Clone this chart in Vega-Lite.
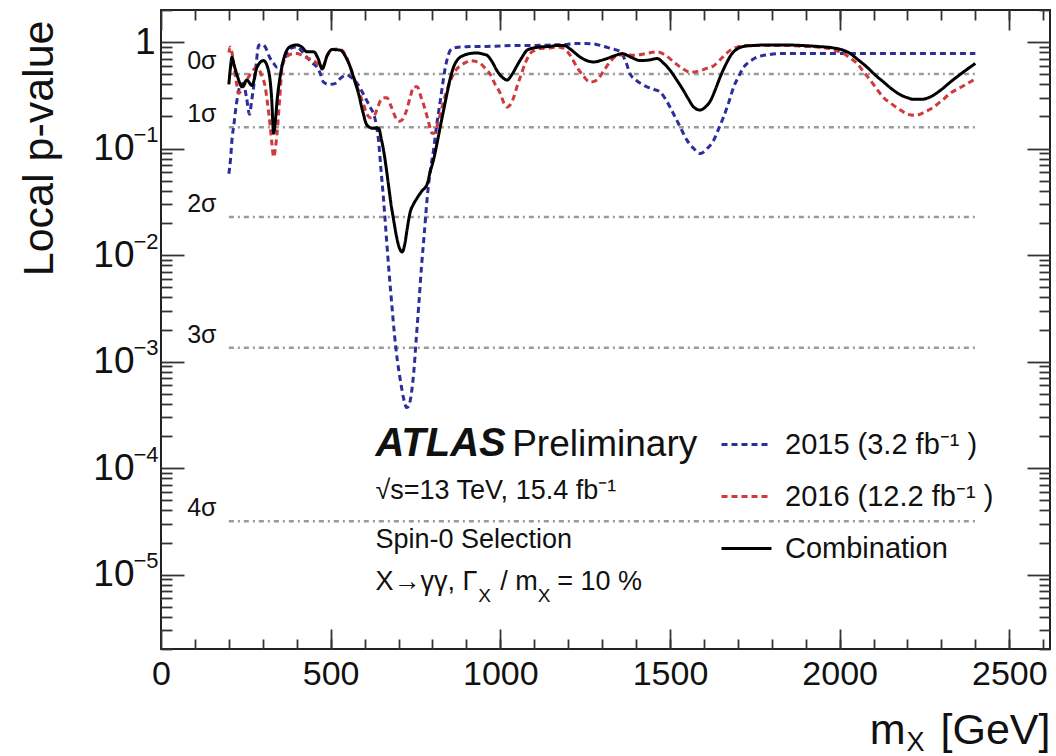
{
  "$schema": "https://vega.github.io/schema/vega-lite/v6.json",
  "width": 889,
  "height": 639,
  "autosize": {"type": "none"},
  "padding": {"left": 161, "top": 10, "right": 6, "bottom": 107},
  "background": "white",
  "config": {
    "view": {"stroke": "#222", "strokeWidth": 2},
    "font": "Liberation Sans",
    "axis": {
      "grid": false, "domain": false, "labelFlush": false,
      "labelFont": "Liberation Sans", "titleFont": "Liberation Sans",
      "labelColor": "#111", "titleColor": "#111",
      "tickColor": "#333", "tickWidth": 1.8,
      "titleFontWeight": "normal"
    },
    "text": {"font": "Liberation Sans", "color": "#111"}
  },
  "datasets": {
    "curves": [
      {"m":200,"p":0.058,"series":"2015"},{"m":205,"p":0.08,"series":"2015"},{"m":210,"p":0.13,"series":"2015"},{"m":214,"p":0.16,"series":"2015"},{"m":222,"p":0.26,"series":"2015"},{"m":229,"p":0.35,"series":"2015"},{"m":236,"p":0.40,"series":"2015"},{"m":243,"p":0.41,"series":"2015"},{"m":252,"p":0.30,"series":"2015"},{"m":261,"p":0.21,"series":"2015"},{"m":267,"p":0.28,"series":"2015"},{"m":273,"p":0.38,"series":"2015"},{"m":280,"p":0.60,"series":"2015"},{"m":288,"p":0.93,"series":"2015"},{"m":298,"p":0.95,"series":"2015"},{"m":307,"p":0.90,"series":"2015"},{"m":320,"p":0.72,"series":"2015"},{"m":332,"p":0.63,"series":"2015"},{"m":342,"p":0.58,"series":"2015"},{"m":352,"p":0.58,"series":"2015"},{"m":362,"p":0.66,"series":"2015"},{"m":371,"p":0.78,"series":"2015"},{"m":385,"p":0.88,"series":"2015"},{"m":401,"p":0.90,"series":"2015"},{"m":415,"p":0.82,"series":"2015"},{"m":430,"p":0.72,"series":"2015"},{"m":445,"p":0.64,"series":"2015"},{"m":460,"p":0.58,"series":"2015"},{"m":470,"p":0.50,"series":"2015"},{"m":479,"p":0.42,"series":"2015"},{"m":495,"p":0.40,"series":"2015"},{"m":514,"p":0.41,"series":"2015"},{"m":530,"p":0.46,"series":"2015"},{"m":548,"p":0.49,"series":"2015"},{"m":563,"p":0.46,"series":"2015"},{"m":578,"p":0.41,"series":"2015"},{"m":593,"p":0.34,"series":"2015"},{"m":607,"p":0.28,"series":"2015"},{"m":618,"p":0.24,"series":"2015"},{"m":627,"p":0.21,"series":"2015"},{"m":634,"p":0.17,"series":"2015"},{"m":641,"p":0.12,"series":"2015"},{"m":648,"p":0.065,"series":"2015"},{"m":656,"p":0.033,"series":"2015"},{"m":664,"p":0.015,"series":"2015"},{"m":672,"p":0.007,"series":"2015"},{"m":680,"p":0.0035,"series":"2015"},{"m":688,"p":0.0018,"series":"2015"},{"m":697,"p":0.0010,"series":"2015"},{"m":706,"p":0.00065,"series":"2015"},{"m":715,"p":0.00045,"series":"2015"},{"m":724,"p":0.00037,"series":"2015"},{"m":730,"p":0.00038,"series":"2015"},{"m":737,"p":0.00048,"series":"2015"},{"m":745,"p":0.0008,"series":"2015"},{"m":752,"p":0.0016,"series":"2015"},{"m":760,"p":0.0035,"series":"2015"},{"m":768,"p":0.008,"series":"2015"},{"m":776,"p":0.016,"series":"2015"},{"m":784,"p":0.033,"series":"2015"},{"m":793,"p":0.06,"series":"2015"},{"m":803,"p":0.096,"series":"2015"},{"m":813,"p":0.17,"series":"2015"},{"m":823,"p":0.28,"series":"2015"},{"m":830,"p":0.40,"series":"2015"},{"m":838,"p":0.58,"series":"2015"},{"m":845,"p":0.72,"series":"2015"},{"m":853,"p":0.84,"series":"2015"},{"m":870,"p":0.89,"series":"2015"},{"m":892,"p":0.90,"series":"2015"},{"m":920,"p":0.91,"series":"2015"},{"m":960,"p":0.91,"series":"2015"},{"m":1000,"p":0.92,"series":"2015"},{"m":1050,"p":0.93,"series":"2015"},{"m":1100,"p":0.93,"series":"2015"},{"m":1150,"p":0.94,"series":"2015"},{"m":1196,"p":0.95,"series":"2015"},{"m":1216,"p":0.97,"series":"2015"},{"m":1250,"p":0.97,"series":"2015"},{"m":1275,"p":0.96,"series":"2015"},{"m":1295,"p":0.93,"series":"2015"},{"m":1325,"p":0.87,"series":"2015"},{"m":1354,"p":0.81,"series":"2015"},{"m":1370,"p":0.65,"series":"2015"},{"m":1383,"p":0.50,"series":"2015"},{"m":1400,"p":0.44,"series":"2015"},{"m":1432,"p":0.38,"series":"2015"},{"m":1452,"p":0.36,"series":"2015"},{"m":1471,"p":0.34,"series":"2015"},{"m":1490,"p":0.28,"series":"2015"},{"m":1511,"p":0.21,"series":"2015"},{"m":1530,"p":0.16,"series":"2015"},{"m":1550,"p":0.12,"series":"2015"},{"m":1570,"p":0.10,"series":"2015"},{"m":1589,"p":0.090,"series":"2015"},{"m":1610,"p":0.10,"series":"2015"},{"m":1629,"p":0.12,"series":"2015"},{"m":1644,"p":0.155,"series":"2015"},{"m":1658,"p":0.198,"series":"2015"},{"m":1673,"p":0.27,"series":"2015"},{"m":1688,"p":0.38,"series":"2015"},{"m":1703,"p":0.48,"series":"2015"},{"m":1717,"p":0.58,"series":"2015"},{"m":1736,"p":0.66,"series":"2015"},{"m":1756,"p":0.72,"series":"2015"},{"m":1790,"p":0.76,"series":"2015"},{"m":1835,"p":0.78,"series":"2015"},{"m":1900,"p":0.78,"series":"2015"},{"m":2000,"p":0.78,"series":"2015"},{"m":2100,"p":0.78,"series":"2015"},{"m":2200,"p":0.78,"series":"2015"},{"m":2300,"p":0.78,"series":"2015"},{"m":2400,"p":0.78,"series":"2015"},

      {"m":200,"p":0.80,"series":"2016"},{"m":204,"p":0.90,"series":"2016"},{"m":209,"p":0.80,"series":"2016"},{"m":214,"p":0.63,"series":"2016"},{"m":222,"p":0.42,"series":"2016"},{"m":229,"p":0.33,"series":"2016"},{"m":238,"p":0.36,"series":"2016"},{"m":248,"p":0.41,"series":"2016"},{"m":263,"p":0.50,"series":"2016"},{"m":283,"p":0.58,"series":"2016"},{"m":295,"p":0.50,"series":"2016"},{"m":307,"p":0.38,"series":"2016"},{"m":315,"p":0.25,"series":"2016"},{"m":322,"p":0.16,"series":"2016"},{"m":327,"p":0.11,"series":"2016"},{"m":332,"p":0.083,"series":"2016"},{"m":337,"p":0.10,"series":"2016"},{"m":342,"p":0.139,"series":"2016"},{"m":350,"p":0.30,"series":"2016"},{"m":357,"p":0.58,"series":"2016"},{"m":366,"p":0.70,"series":"2016"},{"m":376,"p":0.75,"series":"2016"},{"m":390,"p":0.78,"series":"2016"},{"m":401,"p":0.78,"series":"2016"},{"m":415,"p":0.75,"series":"2016"},{"m":426,"p":0.72,"series":"2016"},{"m":440,"p":0.69,"series":"2016"},{"m":450,"p":0.67,"series":"2016"},{"m":463,"p":0.62,"series":"2016"},{"m":475,"p":0.58,"series":"2016"},{"m":490,"p":0.75,"series":"2016"},{"m":504,"p":0.85,"series":"2016"},{"m":520,"p":0.86,"series":"2016"},{"m":533,"p":0.84,"series":"2016"},{"m":545,"p":0.74,"series":"2016"},{"m":558,"p":0.58,"series":"2016"},{"m":570,"p":0.45,"series":"2016"},{"m":582,"p":0.35,"series":"2016"},{"m":595,"p":0.27,"series":"2016"},{"m":607,"p":0.21,"series":"2016"},{"m":617,"p":0.195,"series":"2016"},{"m":627,"p":0.20,"series":"2016"},{"m":636,"p":0.23,"series":"2016"},{"m":646,"p":0.28,"series":"2016"},{"m":656,"p":0.30,"series":"2016"},{"m":666,"p":0.30,"series":"2016"},{"m":678,"p":0.25,"series":"2016"},{"m":690,"p":0.20,"series":"2016"},{"m":700,"p":0.18,"series":"2016"},{"m":710,"p":0.185,"series":"2016"},{"m":722,"p":0.22,"series":"2016"},{"m":734,"p":0.30,"series":"2016"},{"m":745,"p":0.38,"series":"2016"},{"m":755,"p":0.38,"series":"2016"},{"m":767,"p":0.30,"series":"2016"},{"m":779,"p":0.23,"series":"2016"},{"m":790,"p":0.17,"series":"2016"},{"m":799,"p":0.139,"series":"2016"},{"m":806,"p":0.14,"series":"2016"},{"m":813,"p":0.16,"series":"2016"},{"m":823,"p":0.21,"series":"2016"},{"m":833,"p":0.28,"series":"2016"},{"m":845,"p":0.37,"series":"2016"},{"m":858,"p":0.47,"series":"2016"},{"m":870,"p":0.55,"series":"2016"},{"m":882,"p":0.60,"series":"2016"},{"m":897,"p":0.64,"series":"2016"},{"m":911,"p":0.67,"series":"2016"},{"m":926,"p":0.66,"series":"2016"},{"m":941,"p":0.63,"series":"2016"},{"m":955,"p":0.57,"series":"2016"},{"m":970,"p":0.50,"series":"2016"},{"m":985,"p":0.40,"series":"2016"},{"m":1000,"p":0.33,"series":"2016"},{"m":1010,"p":0.27,"series":"2016"},{"m":1020,"p":0.245,"series":"2016"},{"m":1030,"p":0.26,"series":"2016"},{"m":1039,"p":0.30,"series":"2016"},{"m":1049,"p":0.38,"series":"2016"},{"m":1059,"p":0.47,"series":"2016"},{"m":1074,"p":0.64,"series":"2016"},{"m":1088,"p":0.78,"series":"2016"},{"m":1103,"p":0.84,"series":"2016"},{"m":1118,"p":0.87,"series":"2016"},{"m":1147,"p":0.88,"series":"2016"},{"m":1167,"p":0.90,"series":"2016"},{"m":1187,"p":0.87,"series":"2016"},{"m":1206,"p":0.75,"series":"2016"},{"m":1226,"p":0.58,"series":"2016"},{"m":1245,"p":0.48,"series":"2016"},{"m":1265,"p":0.42,"series":"2016"},{"m":1285,"p":0.44,"series":"2016"},{"m":1305,"p":0.54,"series":"2016"},{"m":1325,"p":0.66,"series":"2016"},{"m":1344,"p":0.75,"series":"2016"},{"m":1370,"p":0.76,"series":"2016"},{"m":1393,"p":0.75,"series":"2016"},{"m":1430,"p":0.78,"series":"2016"},{"m":1462,"p":0.81,"series":"2016"},{"m":1490,"p":0.74,"series":"2016"},{"m":1511,"p":0.65,"series":"2016"},{"m":1535,"p":0.57,"series":"2016"},{"m":1560,"p":0.52,"series":"2016"},{"m":1589,"p":0.54,"series":"2016"},{"m":1610,"p":0.57,"series":"2016"},{"m":1629,"p":0.60,"series":"2016"},{"m":1655,"p":0.72,"series":"2016"},{"m":1678,"p":0.84,"series":"2016"},{"m":1700,"p":0.90,"series":"2016"},{"m":1717,"p":0.93,"series":"2016"},{"m":1760,"p":0.93,"series":"2016"},{"m":1835,"p":0.93,"series":"2016"},{"m":1900,"p":0.91,"series":"2016"},{"m":1933,"p":0.90,"series":"2016"},{"m":1980,"p":0.85,"series":"2016"},{"m":2012,"p":0.78,"series":"2016"},{"m":2030,"p":0.71,"series":"2016"},{"m":2051,"p":0.63,"series":"2016"},{"m":2070,"p":0.53,"series":"2016"},{"m":2090,"p":0.44,"series":"2016"},{"m":2110,"p":0.36,"series":"2016"},{"m":2130,"p":0.30,"series":"2016"},{"m":2155,"p":0.26,"series":"2016"},{"m":2179,"p":0.23,"series":"2016"},{"m":2200,"p":0.21,"series":"2016"},{"m":2223,"p":0.205,"series":"2016"},{"m":2250,"p":0.22,"series":"2016"},{"m":2277,"p":0.245,"series":"2016"},{"m":2300,"p":0.28,"series":"2016"},{"m":2326,"p":0.33,"series":"2016"},{"m":2360,"p":0.38,"series":"2016"},{"m":2400,"p":0.45,"series":"2016"},

      {"m":200,"p":0.40,"series":"Combination"},{"m":204,"p":0.55,"series":"Combination"},{"m":209,"p":0.72,"series":"Combination"},{"m":216,"p":0.60,"series":"Combination"},{"m":226,"p":0.47,"series":"Combination"},{"m":239,"p":0.38,"series":"Combination"},{"m":253,"p":0.44,"series":"Combination"},{"m":268,"p":0.39,"series":"Combination"},{"m":283,"p":0.58,"series":"Combination"},{"m":302,"p":0.67,"series":"Combination"},{"m":317,"p":0.54,"series":"Combination"},{"m":326,"p":0.30,"series":"Combination"},{"m":332,"p":0.139,"series":"Combination"},{"m":337,"p":0.18,"series":"Combination"},{"m":342,"p":0.28,"series":"Combination"},{"m":350,"p":0.45,"series":"Combination"},{"m":357,"p":0.60,"series":"Combination"},{"m":371,"p":0.84,"series":"Combination"},{"m":385,"p":0.92,"series":"Combination"},{"m":401,"p":0.94,"series":"Combination"},{"m":415,"p":0.90,"series":"Combination"},{"m":430,"p":0.81,"series":"Combination"},{"m":450,"p":0.81,"series":"Combination"},{"m":463,"p":0.70,"series":"Combination"},{"m":475,"p":0.56,"series":"Combination"},{"m":490,"p":0.75,"series":"Combination"},{"m":504,"p":0.85,"series":"Combination"},{"m":528,"p":0.84,"series":"Combination"},{"m":545,"p":0.72,"series":"Combination"},{"m":558,"p":0.58,"series":"Combination"},{"m":570,"p":0.44,"series":"Combination"},{"m":582,"p":0.33,"series":"Combination"},{"m":595,"p":0.22,"series":"Combination"},{"m":607,"p":0.166,"series":"Combination"},{"m":625,"p":0.155,"series":"Combination"},{"m":641,"p":0.155,"series":"Combination"},{"m":650,"p":0.12,"series":"Combination"},{"m":656,"p":0.096,"series":"Combination"},{"m":664,"p":0.065,"series":"Combination"},{"m":671,"p":0.044,"series":"Combination"},{"m":678,"p":0.030,"series":"Combination"},{"m":686,"p":0.021,"series":"Combination"},{"m":694,"p":0.015,"series":"Combination"},{"m":702,"p":0.0118,"series":"Combination"},{"m":711,"p":0.0107,"series":"Combination"},{"m":718,"p":0.0125,"series":"Combination"},{"m":726,"p":0.018,"series":"Combination"},{"m":734,"p":0.025,"series":"Combination"},{"m":744,"p":0.030,"series":"Combination"},{"m":754,"p":0.034,"series":"Combination"},{"m":769,"p":0.040,"series":"Combination"},{"m":784,"p":0.046,"series":"Combination"},{"m":793,"p":0.060,"series":"Combination"},{"m":803,"p":0.078,"series":"Combination"},{"m":813,"p":0.11,"series":"Combination"},{"m":823,"p":0.16,"series":"Combination"},{"m":833,"p":0.23,"series":"Combination"},{"m":843,"p":0.33,"series":"Combination"},{"m":852,"p":0.45,"series":"Combination"},{"m":862,"p":0.58,"series":"Combination"},{"m":877,"p":0.70,"series":"Combination"},{"m":892,"p":0.75,"series":"Combination"},{"m":911,"p":0.78,"series":"Combination"},{"m":931,"p":0.79,"series":"Combination"},{"m":950,"p":0.77,"series":"Combination"},{"m":961,"p":0.75,"series":"Combination"},{"m":975,"p":0.66,"series":"Combination"},{"m":990,"p":0.54,"series":"Combination"},{"m":1005,"p":0.47,"series":"Combination"},{"m":1020,"p":0.44,"series":"Combination"},{"m":1035,"p":0.50,"series":"Combination"},{"m":1049,"p":0.60,"series":"Combination"},{"m":1064,"p":0.72,"series":"Combination"},{"m":1079,"p":0.84,"series":"Combination"},{"m":1098,"p":0.88,"series":"Combination"},{"m":1118,"p":0.90,"series":"Combination"},{"m":1147,"p":0.91,"series":"Combination"},{"m":1167,"p":0.93,"series":"Combination"},{"m":1187,"p":0.93,"series":"Combination"},{"m":1206,"p":0.86,"series":"Combination"},{"m":1220,"p":0.79,"series":"Combination"},{"m":1236,"p":0.72,"series":"Combination"},{"m":1255,"p":0.67,"series":"Combination"},{"m":1275,"p":0.65,"series":"Combination"},{"m":1295,"p":0.67,"series":"Combination"},{"m":1314,"p":0.70,"series":"Combination"},{"m":1340,"p":0.75,"series":"Combination"},{"m":1359,"p":0.78,"series":"Combination"},{"m":1385,"p":0.72,"series":"Combination"},{"m":1413,"p":0.67,"series":"Combination"},{"m":1440,"p":0.68,"series":"Combination"},{"m":1462,"p":0.70,"series":"Combination"},{"m":1482,"p":0.63,"series":"Combination"},{"m":1501,"p":0.54,"series":"Combination"},{"m":1520,"p":0.44,"series":"Combination"},{"m":1540,"p":0.35,"series":"Combination"},{"m":1555,"p":0.29,"series":"Combination"},{"m":1570,"p":0.245,"series":"Combination"},{"m":1589,"p":0.23,"series":"Combination"},{"m":1604,"p":0.245,"series":"Combination"},{"m":1619,"p":0.28,"series":"Combination"},{"m":1634,"p":0.36,"series":"Combination"},{"m":1648,"p":0.47,"series":"Combination"},{"m":1665,"p":0.62,"series":"Combination"},{"m":1683,"p":0.78,"series":"Combination"},{"m":1700,"p":0.87,"series":"Combination"},{"m":1717,"p":0.91,"series":"Combination"},{"m":1750,"p":0.93,"series":"Combination"},{"m":1786,"p":0.94,"series":"Combination"},{"m":1835,"p":0.94,"series":"Combination"},{"m":1884,"p":0.93,"series":"Combination"},{"m":1933,"p":0.91,"series":"Combination"},{"m":1982,"p":0.88,"series":"Combination"},{"m":2010,"p":0.84,"series":"Combination"},{"m":2031,"p":0.78,"series":"Combination"},{"m":2055,"p":0.68,"series":"Combination"},{"m":2081,"p":0.58,"series":"Combination"},{"m":2105,"p":0.49,"series":"Combination"},{"m":2130,"p":0.42,"series":"Combination"},{"m":2155,"p":0.36,"series":"Combination"},{"m":2179,"p":0.32,"series":"Combination"},{"m":2200,"p":0.30,"series":"Combination"},{"m":2218,"p":0.29,"series":"Combination"},{"m":2240,"p":0.29,"series":"Combination"},{"m":2267,"p":0.305,"series":"Combination"},{"m":2296,"p":0.35,"series":"Combination"},{"m":2326,"p":0.42,"series":"Combination"},{"m":2360,"p":0.51,"series":"Combination"},{"m":2400,"p":0.63,"series":"Combination"}
    ],
    "sigma": [
      {"label": "0σ", "p": 0.5},
      {"label": "1σ", "p": 0.1587},
      {"label": "2σ", "p": 0.02275},
      {"label": "3σ", "p": 0.00135},
      {"label": "4σ", "p": 0.00003167}
    ]
  },
  "resolve": {"axis": {"x": "independent", "y": "independent"}},
  "layer": [
    {
      "data": {"name": "sigma"},
      "mark": {"type": "rule", "color": "#9a9a9a", "strokeWidth": 2.5, "strokeDash": [5, 4, 2, 4]},
      "encoding": {
        "x": {"datum": 200, "type": "quantitative",
              "scale": {"domain": [0, 2620], "nice": false, "zero": false},
              "axis": {"orient": "bottom", "values": [0, 500, 1000, 1500, 2000, 2500], "labels": false, "tickSize": -20, "title": null, "zindex": 1}},
        "x2": {"datum": 2400},
        "y": {"field": "p", "type": "quantitative",
              "scale": {"type": "log", "domain": [0.000002, 2], "nice": false},
              "axis": {"orient": "left", "values": [0.00001, 0.0001, 0.001, 0.01, 0.1, 1], "labels": false, "tickSize": -23, "title": null, "zindex": 1}}
      }
    },
    {
      "data": {"name": "curves"},
      "mark": {"type": "line", "interpolate": "monotone", "strokeWidth": 3, "clip": true},
      "encoding": {
        "x": {"field": "m", "type": "quantitative",
              "scale": {"domain": [0, 2620], "nice": false, "zero": false},
              "axis": {"orient": "bottom", "values": [0, 500, 1000, 1500, 2000, 2500], "format": "d", "ticks": false, "labelFontSize": 34, "labelPadding": 8,
                       "title": "m", "titleFontSize": 43, "titleAlign": "right", "titleBaseline": "alphabetic", "titleX": 744, "titleY": 94}},
        "y": {"field": "p", "type": "quantitative",
              "scale": {"type": "log", "domain": [0.000002, 2], "nice": false},
              "axis": {"orient": "left", "values": [0.00001, 0.0001, 0.001, 0.01, 0.1], "labelExpr": "'10'", "ticks": false, "labelFontSize": 37, "labelPadding": 27, "labelBaseline": "middle",
                       "title": "Local p-value", "titleFontSize": 43, "titleAngle": -90, "titleAlign": "right", "titleBaseline": "alphabetic", "titleX": -109, "titleY": 10}},
        "color": {"field": "series", "type": "nominal",
                  "scale": {"domain": ["2015", "2016", "Combination"], "range": ["#2d2d9c", "#cf3a3a", "#000000"]},
                  "legend": {"title": null, "orient": "none", "legendX": 559, "legendY": 408, "padding": 0,
                             "symbolType": "stroke", "symbolSize": 2500, "symbolStrokeWidth": 3,
                             "labelFontSize": 29, "labelFont": "Liberation Sans", "labelColor": "#111", "labelOffset": 12, "labelLimit": 400, "rowPadding": 10,
                             "labelExpr": "datum.label == '2015' ? '2015 (3.2 fb⁻¹ )' : datum.label == '2016' ? '2016 (12.2 fb⁻¹ )' : datum.label"}},
        "strokeDash": {"field": "series", "type": "nominal",
                       "scale": {"domain": ["2015", "2016", "Combination"], "range": [[6, 4], [6, 4], [1, 0]]},
                       "legend": {"title": null, "orient": "none", "legendX": 559, "legendY": 408, "padding": 0,
                             "symbolType": "stroke", "symbolSize": 2500, "symbolStrokeWidth": 3,
                             "labelFontSize": 29, "labelFont": "Liberation Sans", "labelColor": "#111", "labelOffset": 12, "labelLimit": 400, "rowPadding": 10,
                             "labelExpr": "datum.label == '2015' ? '2015 (3.2 fb⁻¹ )' : datum.label == '2016' ? '2016 (12.2 fb⁻¹ )' : datum.label"}}
      }
    },
    {
      "data": {"name": "sigma"},
      "mark": {"type": "text", "align": "left", "baseline": "alphabetic", "dy": -5, "fontSize": 25},
      "encoding": {
        "x": {"datum": 77, "type": "quantitative",
              "scale": {"domain": [0, 2620], "nice": false, "zero": false},
              "axis": {"orient": "bottom", "values": [100, 200, 300, 400, 500, 600, 700, 800, 900, 1000, 1100, 1200, 1300, 1400, 1500, 1600, 1700, 1800, 1900, 2000, 2100, 2200, 2300, 2400, 2500, 2600], "labels": false, "tickSize": -10, "title": null, "zindex": 1}},
        "y": {"field": "p", "type": "quantitative",
              "scale": {"type": "log", "domain": [0.000002, 2], "nice": false},
              "axis": {"orient": "left", "values": [0.000002, 0.000003, 0.000004, 0.000005, 0.000006, 0.000007, 0.000008, 0.000009, 0.00002, 0.00003, 0.00004, 0.00005, 0.00006, 0.00007, 0.00008, 0.00009, 0.0002, 0.0003, 0.0004, 0.0005, 0.0006, 0.0007, 0.0008, 0.0009, 0.002, 0.003, 0.004, 0.005, 0.006, 0.007, 0.008, 0.009, 0.02, 0.03, 0.04, 0.05, 0.06, 0.07, 0.08, 0.09, 0.2, 0.3, 0.4, 0.5, 0.6, 0.7, 0.8, 0.9, 2], "labels": false, "tickSize": -11, "title": null, "zindex": 1}},
        "text": {"field": "label"}
      }
    },
    {
      "data": {"values": [{}]},
      "mark": {"type": "text", "text": "ATLAS", "align": "left", "baseline": "alphabetic", "fontSize": 40, "fontStyle": "italic", "fontWeight": "bold"},
      "encoding": {
        "x": {"datum": 632, "type": "quantitative",
              "scale": {"domain": [0, 2620], "nice": false, "zero": false},
              "axis": {"orient": "top", "values": [0, 500, 1000, 1500, 2000, 2500], "labels": false, "tickSize": -20, "title": null, "zindex": 1}},
        "y": {"datum": 0.00013, "type": "quantitative",
              "scale": {"type": "log", "domain": [0.000002, 2], "nice": false},
              "axis": {"orient": "right", "values": [0.00001, 0.0001, 0.001, 0.01, 0.1, 1], "labels": false, "tickSize": -23, "title": null, "zindex": 1}}
      }
    },
    {
      "data": {"values": [{}]},
      "mark": {"type": "text", "text": "Preliminary", "align": "left", "baseline": "alphabetic", "fontSize": 37},
      "encoding": {
        "x": {"datum": 1035, "type": "quantitative",
              "scale": {"domain": [0, 2620], "nice": false, "zero": false},
              "axis": {"orient": "top", "values": [100, 200, 300, 400, 500, 600, 700, 800, 900, 1000, 1100, 1200, 1300, 1400, 1500, 1600, 1700, 1800, 1900, 2000, 2100, 2200, 2300, 2400, 2500, 2600], "labels": false, "tickSize": -10, "title": null, "zindex": 1}},
        "y": {"datum": 0.00013, "type": "quantitative",
              "scale": {"type": "log", "domain": [0.000002, 2], "nice": false},
              "axis": {"orient": "right", "values": [0.000002, 0.000003, 0.000004, 0.000005, 0.000006, 0.000007, 0.000008, 0.000009, 0.00002, 0.00003, 0.00004, 0.00005, 0.00006, 0.00007, 0.00008, 0.00009, 0.0002, 0.0003, 0.0004, 0.0005, 0.0006, 0.0007, 0.0008, 0.0009, 0.002, 0.003, 0.004, 0.005, 0.006, 0.007, 0.008, 0.009, 0.02, 0.03, 0.04, 0.05, 0.06, 0.07, 0.08, 0.09, 0.2, 0.3, 0.4, 0.5, 0.6, 0.7, 0.8, 0.9, 2], "labels": false, "tickSize": -11, "title": null, "zindex": 1}}
      }
    },
    {
      "data": {"values": [{}]},
      "mark": {"type": "text", "text": "√s=13 TeV, 15.4 fb⁻¹", "align": "left", "baseline": "alphabetic", "fontSize": 27},
      "encoding": {
        "x": {"datum": 632, "type": "quantitative",
              "scale": {"domain": [0, 2620], "nice": false, "zero": false},
              "axis": {"orient": "bottom", "labels": false, "ticks": false, "title": "X", "titleFontSize": 27, "titleAlign": "left", "titleBaseline": "alphabetic", "titleX": 745, "titleY": 101}},
        "y": {"datum": 0.000051, "type": "quantitative",
              "scale": {"type": "log", "domain": [0.000002, 2], "nice": false},
              "axis": {"orient": "left", "values": [0.00001, 0.0001, 0.001, 0.01, 0.1], "labelExpr": "'−' + format(-log(datum.value) / LN10, '.0f')", "ticks": false, "labelFontSize": 22, "labelPadding": 3, "labelOffset": -14, "labelBaseline": "middle", "title": null}}
      }
    },
    {
      "data": {"values": [{}]},
      "mark": {"type": "text", "text": "Spin-0 Selection", "align": "left", "baseline": "alphabetic", "fontSize": 27},
      "encoding": {
        "x": {"datum": 632, "type": "quantitative",
              "scale": {"domain": [0, 2620], "nice": false, "zero": false},
              "axis": {"orient": "bottom", "labels": false, "ticks": false, "title": "[GeV]", "titleFontSize": 43, "titleAlign": "right", "titleBaseline": "alphabetic", "titleX": 889, "titleY": 94}},
        "y": {"datum": 0.0000178, "type": "quantitative",
              "scale": {"type": "log", "domain": [0.000002, 2], "nice": false},
              "axis": {"orient": "left", "values": [1], "labelExpr": "'1'", "ticks": false, "labelFontSize": 37, "labelPadding": 6, "labelBaseline": "middle", "title": null}}
      }
    },
    {
      "data": {"values": [{}]},
      "mark": {"type": "text", "text": "X→γγ,  Γ", "align": "left", "baseline": "alphabetic", "fontSize": 27},
      "encoding": {
        "x": {"datum": 632, "type": "quantitative", "scale": {"domain": [0, 2620], "nice": false, "zero": false}, "axis": null},
        "y": {"datum": 0.0000071, "type": "quantitative", "scale": {"type": "log", "domain": [0.000002, 2], "nice": false}, "axis": null}
      }
    },
    {
      "data": {"values": [{}]},
      "mark": {"type": "text", "text": "X", "align": "left", "baseline": "alphabetic", "fontSize": 19},
      "encoding": {
        "x": {"datum": 935, "type": "quantitative", "scale": {"domain": [0, 2620], "nice": false, "zero": false}, "axis": null},
        "y": {"datum": 0.0000055, "type": "quantitative", "scale": {"type": "log", "domain": [0.000002, 2], "nice": false}, "axis": null}
      }
    },
    {
      "data": {"values": [{}]},
      "mark": {"type": "text", "text": "/ m", "align": "left", "baseline": "alphabetic", "fontSize": 27},
      "encoding": {
        "x": {"datum": 1000, "type": "quantitative", "scale": {"domain": [0, 2620], "nice": false, "zero": false}, "axis": null},
        "y": {"datum": 0.0000071, "type": "quantitative", "scale": {"type": "log", "domain": [0.000002, 2], "nice": false}, "axis": null}
      }
    },
    {
      "data": {"values": [{}]},
      "mark": {"type": "text", "text": "X", "align": "left", "baseline": "alphabetic", "fontSize": 19},
      "encoding": {
        "x": {"datum": 1110, "type": "quantitative", "scale": {"domain": [0, 2620], "nice": false, "zero": false}, "axis": null},
        "y": {"datum": 0.0000055, "type": "quantitative", "scale": {"type": "log", "domain": [0.000002, 2], "nice": false}, "axis": null}
      }
    },
    {
      "data": {"values": [{}]},
      "mark": {"type": "text", "text": "= 10 %", "align": "left", "baseline": "alphabetic", "fontSize": 27},
      "encoding": {
        "x": {"datum": 1168, "type": "quantitative", "scale": {"domain": [0, 2620], "nice": false, "zero": false}, "axis": null},
        "y": {"datum": 0.0000071, "type": "quantitative", "scale": {"type": "log", "domain": [0.000002, 2], "nice": false}, "axis": null}
      }
    }
  ]
}
